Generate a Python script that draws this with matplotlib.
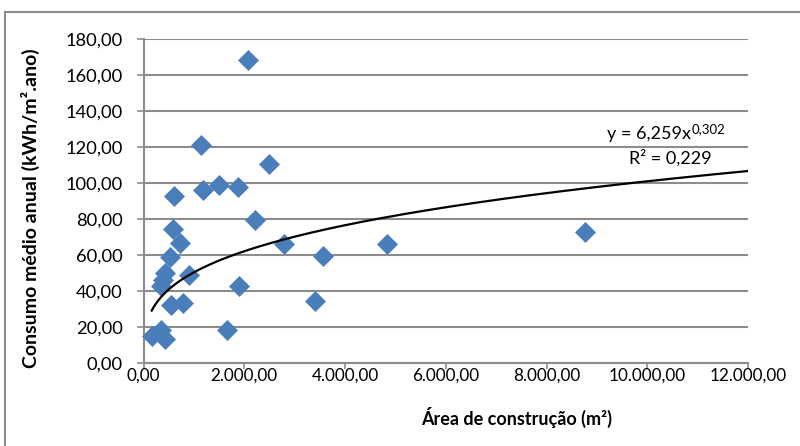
import numpy as np
import matplotlib
matplotlib.use("Agg")
import matplotlib.pyplot as plt
from matplotlib.ticker import FuncFormatter
from matplotlib.lines import Line2D

plt.rcParams['font.family'] = ['Lato', 'DejaVu Sans']

area = [2076, 1138, 2500, 612, 1185, 1505, 1870, 2215, 592, 727, 2790, 4830,
        8772, 527, 3560, 910, 427, 393, 342, 1902, 546, 785, 3405, 1650, 163,
        342, 427]
consumo = [168.3, 121.1, 110.4, 92.9, 96.1, 98.9, 97.6, 79.4, 74.3, 66.5, 66.1,
           66.1, 72.9, 58.7, 59.4, 48.9, 49.8, 46.1, 42.9, 42.8, 32.2, 33.5,
           34.4, 18.3, 15.0, 18.3, 13.3]
coef_a = 6.259
coef_b = 0.302
r2_text = "R² = 0,229"
x_ticks = [0, 2000, 4000, 6000, 8000, 10000, 12000]
y_ticks = [0, 20, 40, 60, 80, 100, 120, 140, 160, 180]

W, H = 800, 446
fig = plt.figure(figsize=(8, 4.46), dpi=100)
ax = fig.add_axes([143.5 / W, 1 - 363 / H, (748 - 143.5) / W, (363 - 39.3) / H])

grid_c = '#8c8c8c'
ax.set_xlim(0, 12000)
ax.set_ylim(0, 180)
ax.set_xticks(x_ticks)
ax.set_yticks(y_ticks)


def br(v, pos=None):
    s = f"{v:,.2f}"
    return s.replace(",", "X").replace(".", ",").replace("X", ".")


ax.xaxis.set_major_formatter(FuncFormatter(br))
ax.yaxis.set_major_formatter(FuncFormatter(br))
ax.yaxis.grid(True, color=grid_c, lw=1.5)
ax.set_axisbelow(True)
for s in ['top', 'right']:
    ax.spines[s].set_visible(False)
for s in ['left', 'bottom']:
    ax.spines[s].set_color(grid_c)
    ax.spines[s].set_linewidth(1.5)
ax.tick_params(axis='both', colors=grid_c, labelcolor='black',
               length=5, width=1.2, direction='out')
ax.tick_params(axis='y', pad=10, labelsize=13.2)
ax.tick_params(axis='x', pad=-1, length=4, labelsize=12.3)

ax.plot(area, consumo, 'D', color='#4a7ebb', ms=10.5, mec='#4a7ebb', mew=0.5,
        zorder=3, clip_on=False)

xs = np.linspace(min(area), 12000, 400)
ax.plot(xs, coef_a * xs ** coef_b, color='black', lw=1.6, zorder=4)

eq = ax.text(9200, 127.6, "y = 6,259x", fontsize=13, va='center', ha='left')
fig.canvas.draw()
bb = eq.get_window_extent()
fig.text(bb.x1 / W + 0.5 / W, (bb.y1 - 4) / H, "0,302", fontsize=9.5,
         va='center', ha='left')
ax.text(10460, 114.3, r2_text, fontsize=13, va='center', ha='center')

fig.text(517 / W, 1 - 417 / H, "Área de construção (m²)", fontsize=13,
         fontweight='bold', ha='center', va='center')
fig.text(30 / W, 1 - 208 / H, "Consumo médio anual (kWh/m².ano)", fontsize=14,
         fontweight='bold', ha='center', va='center', rotation=90)

fig.add_artist(Line2D([4.5 / W, 4.5 / W], [0, 1 - 12 / H], color=grid_c, lw=1.5,
                      transform=fig.transFigure))
fig.add_artist(Line2D([4.5 / W, 1], [1 - 12 / H, 1 - 12 / H], color=grid_c, lw=1.5,
                      transform=fig.transFigure))

fig.savefig("out.png", dpi=100)
